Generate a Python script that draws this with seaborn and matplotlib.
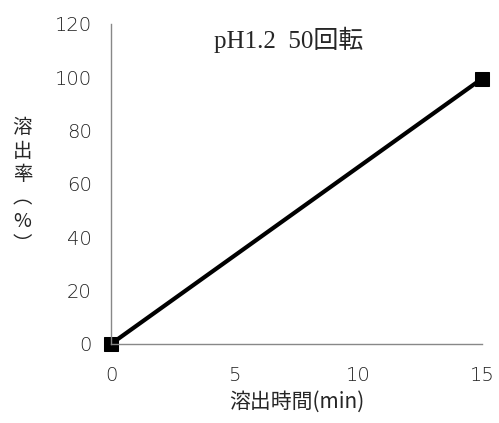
import pandas as pd
import matplotlib.pyplot as plt
import seaborn as sns

# data
time_min = [0, 15]
dissolution = [0, 99.5]
x_ticks = [0, 5, 10, 15]
y_ticks = [0, 20, 40, 60, 80, 100, 120]

sns.set_style("white")
plt.rcParams['font.family'] = ['Liberation Serif', 'Noto Sans CJK JP', 'DejaVu Sans']

df = pd.DataFrame({'t': time_min, 'rate': dissolution})

fig = plt.figure(figsize=(4.99, 4.23), dpi=100)
ax = fig.add_axes([0.2224, 0.1868, 0.7435, 0.7565])

sns.lineplot(data=df, x='t', y='rate', ax=ax, color='black', linewidth=3,
             marker='s', markersize=10, markeredgecolor='black')

ax.set_xlim(0, 15)
ax.set_ylim(0, 120)
ax.set_xticks(x_ticks)
ax.set_yticks(y_ticks)

for s in ['top', 'right']:
    ax.spines[s].set_visible(False)
for s in ['left', 'bottom']:
    ax.spines[s].set_color('#888888')
    ax.spines[s].set_linewidth(1)

ax.tick_params(axis='x', direction='in', length=6, color='#888888', pad=16,
               labelsize=14, labelcolor='#222222')
ax.tick_params(axis='y', direction='out', length=6, color='#888888', pad=8,
               labelsize=14, labelcolor='#222222')
for lab in ax.get_xticklabels() + ax.get_yticklabels():
    lab.set_family(['DejaVu Sans'])
    lab.set_fontweight('light')

ax.set_xlabel('溶出時間(min)', fontsize=15, family=['Noto Sans CJK JP', 'DejaVu Sans'],
              labelpad=4)
ax.set_ylabel('')
fig.text(0.045, 0.56, '溶\n出\n率\n︵\n%\n︶', fontsize=14, ha='center', va='center',
         linespacing=1.15, family=['Noto Sans CJK JP', 'DejaVu Sans'])

ax.text(0.48, 0.95, 'pH1.2  50回転', transform=ax.transAxes, ha='center', va='center',
        fontsize=18, family=['Liberation Serif', 'Noto Sans CJK JP'])

for l in ax.lines:
    l.set_clip_on(False)

fig.savefig('out.png', dpi=100)
